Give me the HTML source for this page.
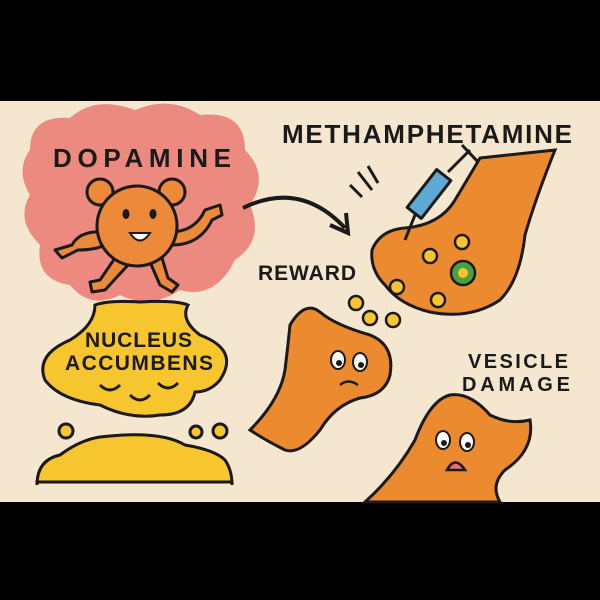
<!DOCTYPE html>
<html><head><style>html,body{margin:0;padding:0;background:#000}svg{display:block}</style></head>
<body>
<svg width="600" height="600" viewBox="0 0 600 600" xmlns="http://www.w3.org/2000/svg" font-family="Liberation Sans, sans-serif">
<rect width="600" height="600" fill="#000"/>
<rect x="0" y="101" width="600" height="401" fill="#f4e6cf"/>
<!-- pink cloud -->
<path d="M30,150 Q30,115 70,118 Q95,95 135,110 Q170,95 200,115 Q245,110 245,150 Q270,175 250,205 Q265,240 235,260 Q215,300 180,290 Q150,310 120,295 Q90,310 70,285 Q35,280 40,245 Q15,220 30,195 Q15,170 30,150Z" fill="#ec8a80"/>
<text x="53" y="167" font-size="26" font-weight="bold" fill="#1a1a1a" textLength="178">DOPAMINE</text>
<!-- dopamine character -->
<g stroke="#1a1a1a" stroke-width="3" fill="#ec8a3a" stroke-linejoin="round">
<circle cx="100" cy="192" r="13"/><circle cx="172" cy="192" r="13"/>
<path d="M105,232 Q80,230 72,245 L55,250 L62,258 L78,250 Q95,250 105,245Z"/>
<path d="M170,232 Q195,232 205,210 L220,205 L222,215 L212,220 Q200,245 172,245Z"/>
<path d="M115,258 L100,280 L90,282 L92,292 L105,290 L128,265Z"/>
<path d="M150,262 L160,285 L172,292 L178,285 L168,278 L162,258Z"/>
<circle cx="137" cy="226" r="40"/>
</g>
<ellipse cx="126" cy="214" rx="3.5" ry="5" fill="#1a1a1a"/><ellipse cx="153" cy="214" rx="3.5" ry="5" fill="#1a1a1a"/>
<path d="M130,233 Q140,248 150,233Z" fill="#fff" stroke="#1a1a1a" stroke-width="2"/>
<!-- arrow -->
<path d="M243,208 Q300,180 345,228" fill="none" stroke="#1a1a1a" stroke-width="4"/>
<path d="M330,225 L348,233 L346,213" fill="none" stroke="#1a1a1a" stroke-width="4"/>
<!-- nucleus accumbens -->
<path d="M95,305 Q110,300 140,302 Q175,300 188,305 Q180,320 200,335 Q240,350 220,380 Q210,392 195,392 Q190,415 160,415 Q130,420 100,405 Q60,400 45,380 Q35,355 70,340 Q95,325 95,305Z" fill="#f7c52e" stroke="#1a1a1a" stroke-width="3"/>
<text x="85" y="347" font-size="21" font-weight="bold" fill="#1a1a1a" textLength="107">NUCLEUS</text>
<text x="65" y="370" font-size="21" font-weight="bold" fill="#1a1a1a" textLength="148">ACCUMBENS</text>
<g fill="none" stroke="#1a1a1a" stroke-width="3"><path d="M100,385 Q110,395 120,385"/><path d="M130,395 Q140,405 150,395"/><path d="M158,383 Q168,393 178,383"/></g>
<path d="M37,485 Q37,460 60,455 Q80,440 100,437 Q160,430 185,445 Q215,450 225,460 Q232,470 232,485 L232,482 L37,482Z" fill="#f7c52e" stroke="#1a1a1a" stroke-width="3"/>
<g fill="#f7c52e" stroke="#1a1a1a" stroke-width="3"><circle cx="66" cy="431" r="7"/><circle cx="196" cy="432" r="6"/><circle cx="220" cy="431" r="7"/></g>
<!-- methamphetamine -->
<text x="282" y="143" font-size="26" font-weight="bold" fill="#1a1a1a" textLength="290">METHAMPHETAMINE</text>
<g stroke="#1a1a1a" stroke-width="3"><line x1="358" y1="172" x2="372" y2="190"/><line x1="368" y1="166" x2="378" y2="183"/><line x1="350" y1="185" x2="362" y2="197"/></g>
<!-- presynaptic neuron -->
<path d="M480,158 L555,150 Q535,200 525,235 Q520,280 500,300 Q470,320 430,312 Q400,305 385,285 Q370,270 372,250 Q380,230 405,228 Q440,225 455,200 Q470,175 480,158Z" fill="#ec8a2f" stroke="#1a1a1a" stroke-width="3"/>
<!-- syringe -->
<g stroke="#1a1a1a" stroke-width="3" stroke-linejoin="round">
<line x1="415" y1="215" x2="405" y2="240"/>
<rect x="420" y="170" width="18" height="48" fill="#5ea8d6" transform="rotate(38 429 194)"/>
<line x1="448" y1="172" x2="470" y2="150"/>
<line x1="462" y1="145" x2="478" y2="162"/>
</g>
<g fill="#f7c52e" stroke="#1a1a1a" stroke-width="2.5"><circle cx="462" cy="242" r="7"/><circle cx="430" cy="256" r="7"/><circle cx="438" cy="300" r="7"/><circle cx="397" cy="287" r="7"/><circle cx="356" cy="303" r="7"/><circle cx="370" cy="318" r="7"/><circle cx="393" cy="320" r="7"/></g>
<circle cx="463" cy="273" r="12" fill="#4aa040" stroke="#1a1a1a" stroke-width="2.5"/><circle cx="463" cy="273" r="5" fill="#f7c52e"/>
<text x="258" y="280" font-size="21" font-weight="bold" fill="#1a1a1a" textLength="98">REWARD</text>
<!-- sad neuron 1 -->
<path d="M290,325 Q305,300 320,312 Q335,325 370,335 Q395,345 390,375 Q385,395 360,398 Q335,405 320,430 Q300,455 285,450 Q265,440 250,430 Q280,400 285,370 Q288,345 290,325Z" fill="#ec8a2f" stroke="#1a1a1a" stroke-width="3"/>
<g fill="#fff" stroke="#1a1a1a" stroke-width="2"><ellipse cx="338" cy="360" rx="7" ry="9"/><ellipse cx="360" cy="362" rx="7" ry="9"/></g>
<circle cx="339" cy="363" r="3" fill="#1a1a1a"/><circle cx="361" cy="365" r="3" fill="#1a1a1a"/>
<path d="M340,385 Q348,378 358,385" fill="none" stroke="#1a1a1a" stroke-width="2.5"/>
<!-- sad neuron 2 -->
<path d="M365,502 Q395,475 415,440 Q430,400 450,395 Q470,392 490,415 Q510,425 530,420 Q535,450 505,470 Q490,485 500,502Z" fill="#ec8a2f" stroke="#1a1a1a" stroke-width="3"/>
<g fill="#fff" stroke="#1a1a1a" stroke-width="2"><ellipse cx="443" cy="440" rx="7" ry="9"/><ellipse cx="467" cy="442" rx="7" ry="9"/></g>
<circle cx="444" cy="443" r="3" fill="#1a1a1a"/><circle cx="468" cy="445" r="3" fill="#1a1a1a"/>
<path d="M447,470 Q455,455 465,470Z" fill="#ec6a7a" stroke="#1a1a1a" stroke-width="2.5"/>
<text x="468" y="368" font-size="20" font-weight="bold" fill="#1a1a1a" textLength="100">VESICLE</text>
<text x="462" y="391" font-size="20" font-weight="bold" fill="#1a1a1a" textLength="108">DAMAGE</text>
</svg>
</body></html>
